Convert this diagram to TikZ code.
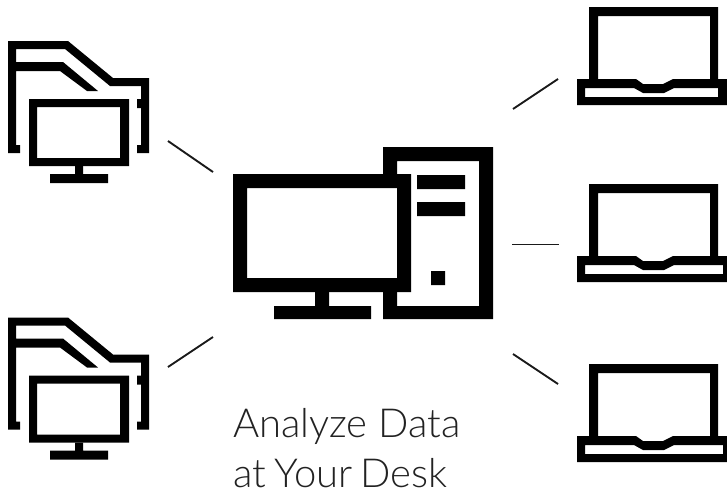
\documentclass[tikz,border=0pt]{standalone}
\usepackage{fontspec}
\newfontfamily\lightfont{Lato Light}
\definecolor{ink}{HTML}{000000}
\definecolor{txt}{HTML}{222222}
\definecolor{linkink}{HTML}{1A1A1A}
\tikzset{
  x=1pt,y=-1pt,
  solid ink/.style={fill=ink,draw=none,even odd rule},
  link/.style={draw=linkink,line width=1.9pt},
  caption/.style={anchor=base west,inner sep=0pt,text=txt,font=\lightfont\fontsize{40}{40}\selectfont},
  pics/foldericon/.style={code={
    \fill[solid ink] (8,41)--(68,41)--(113,78)--(149,78)--(149,153)--(137,153)--(137,145)--(141,145)--(141,108)--(137,108)--(137,99)--(141,99)--(141,86)--(110,86)--(65,49)--(16,49)--(16,62)--(63,62)--(98,91)--(87,91)--(60,71)--(16,71)--(16,145)--(20,145)--(20,153)--(8,153)--cycle;
    \fill[solid ink] (29,99) rectangle (129,166) (37,107) rectangle (120,158);
    \fill[ink] (75,166) rectangle (83,175) (50,174) rectangle (108,183);
  }},
  pics/laptopicon/.style={code={
    \fill[solid ink] (589,79)--(589,7)--(718,7)--(718,79)--(727,79)--(727,105)--(577,105)--(577,79)--cycle
       (598,79)--(636,79)--(643,84)--(663,84)--(673,79)--(710,79)--(710,16)--(598,16)--cycle
       (585,88)--(634,88)--(643,93)--(664,93)--(674,88)--(#1,88)--(#1,97)--(585,97)--cycle;
  }}
}
\begin{document}
\begin{tikzpicture}
\useasboundingbox (0,0) rectangle (727,491);
\pic at (0,0) {foldericon};
\pic at (0,276.5) {foldericon};
\pic at (0,0) {laptopicon=718};
\pic at (0,177) {laptopicon=723};
\pic at (0,357) {laptopicon=723};
% central computer
\fill[solid ink] (233,174) rectangle (411,292) (247,188) rectangle (397,278);
\fill[ink] (315,292) rectangle (329,306) (274,306) rectangle (371,319);
\fill[solid ink] (383,174)--(383,147)--(493,147)--(493,319)--(383,319)--(383,292)--(397,292)--(397,306)--(479,306)--(479,161)--(397,161)--(397,174)--cycle;
\fill[ink] (417,175) rectangle (465,189) (417,202) rectangle (465,216) (431,271) rectangle (445,285);
\coordinate (a1) at (168,141); \coordinate (a2) at (213,172);
\coordinate (b1) at (168,367); \coordinate (b2) at (213,337);
\coordinate (c1) at (513,109); \coordinate (c2) at (558,79);
\coordinate (d1) at (512,244.5); \coordinate (d2) at (559,244.5);
\coordinate (e1) at (513,354); \coordinate (e2) at (558,384);
\draw[link] (a1)--(a2); \draw[link] (b1)--(b2); \draw[link] (c1)--(c2); \draw[link] (d1)--(d2); \draw[link] (e1)--(e2);
\node[caption] (t1) at (233,437) {Analyze Data};
\node[caption] (t2) at (233,487) {at\kern-2.5pt\ Your\kern-2.5pt\ Desk};
\end{tikzpicture}
\end{document}
